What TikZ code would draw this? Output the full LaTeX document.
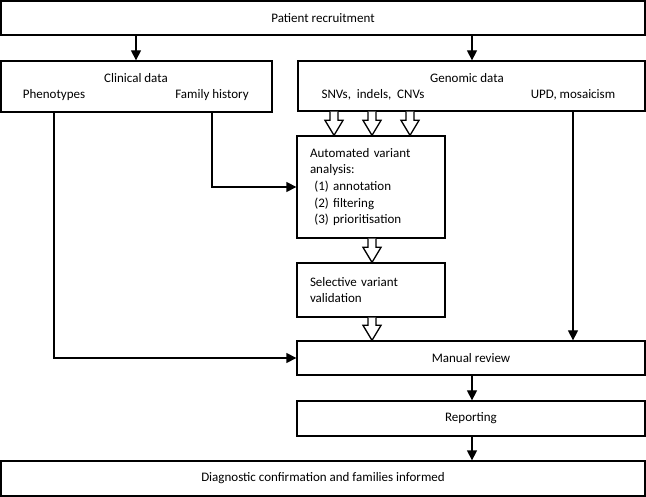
\documentclass[tikz,border=0pt]{standalone}
\usepackage{fontspec}
\setmainfont{Carlito}
\usetikzlibrary{arrows.meta,calc}
\tikzset{
  box/.style={draw, line width=1.3pt, inner sep=0pt, minimum width=#1, anchor=center},
  lbl/.style={inner sep=0pt, font=\fontsize{13}{16.7}\selectfont},
  arr/.style={draw, line width=1.3pt, -{Triangle[length=10pt,width=10pt]}},
  hol/.style={draw, line width=1.3pt, fill=white, line join=miter},
}
\newcommand\hollowarr[2]{%
  \path[hol] let \p1=(#1), \p2=(#2) in
    (\x1-4pt,\y1) -- (\x1-4pt,\y2+15pt) -- (\x1-9pt,\y2+15pt) -- (\x1,\y2)
    -- (\x1+9pt,\y2+15pt) -- (\x1+4pt,\y2+15pt) -- (\x1+4pt,\y1);}
\begin{document}
\begin{tikzpicture}[x=1pt,y=-1pt]
\useasboundingbox (0,0) rectangle (646,497);
% boxes
\node[box=644pt, minimum height=34pt, lbl] (top) at (323,18) {Patient recruitment};
\node[box=271pt, minimum height=51pt] (clin) at (136.5,86.5) {};
\node[box=347pt, minimum height=50pt] (gen) at (471.5,86) {};
\node[box=148pt, minimum height=102pt, lbl, text width=122pt, align=left] (auto) at (371,187)
  {Automated variant\\analysis:\\\ (1) annotation\\\ (2) filtering\\\ (3) prioritisation};
\node[box=148pt, minimum height=54pt, lbl, text width=122pt, align=left] (sel) at (371,290)
  {Selective variant\\validation};
\node[box=348pt, minimum height=34pt, lbl] (man) at (471,358) {Manual review};
\node[box=348pt, minimum height=35pt, lbl] (rep) at (471,418.5) {Reporting};
\node[box=644pt, minimum height=35pt, lbl] (diag) at (323,478.5) {Diagnostic confirmation and families informed};
% inner labels
\node[lbl] (clint) at (136,78) {Clinical data};
\node[lbl] (phen) at (54,95) {Phenotypes};
\node[lbl] (fam) at (212,95) {Family history};
\node[lbl] (gent) at (467,78) {Genomic data};
\node[lbl] (snv) at (373,95) {SNVs,\ \ indels,\ \ CNVs};
\node[lbl] (upd) at (573,95) {UPD, mosaicism};
% coordinates
\coordinate (c1) at (136,0);
\coordinate (c2) at (472,0);
\coordinate (h1) at (334,0);
\coordinate (h2) at (372,0);
\coordinate (h3) at (410,0);
% connectors
\draw[arr] (top.south -| c1) -- (clin.north -| c1);
\draw[arr] (top.south -| c2) -- (gen.north -| c2);
\draw[arr] (phen |- clin.south) |- (man.west);
\draw[arr] (fam |- clin.south) |- (auto.west);
\draw[arr] (upd |- gen.south) -- (upd |- man.north);
\draw[arr] (man.south -| c2) -- (rep.north -| c2);
\draw[arr] (rep.south -| c2) -- (diag.north -| c2);
\hollowarr{gen.south -| h1}{auto.north -| h1}
\hollowarr{gen.south -| h2}{auto.north -| h2}
\hollowarr{gen.south -| h3}{auto.north -| h3}
\hollowarr{auto.south -| h2}{sel.north -| h2}
\hollowarr{sel.south -| h2}{man.north -| h2}
\end{tikzpicture}
\end{document}
